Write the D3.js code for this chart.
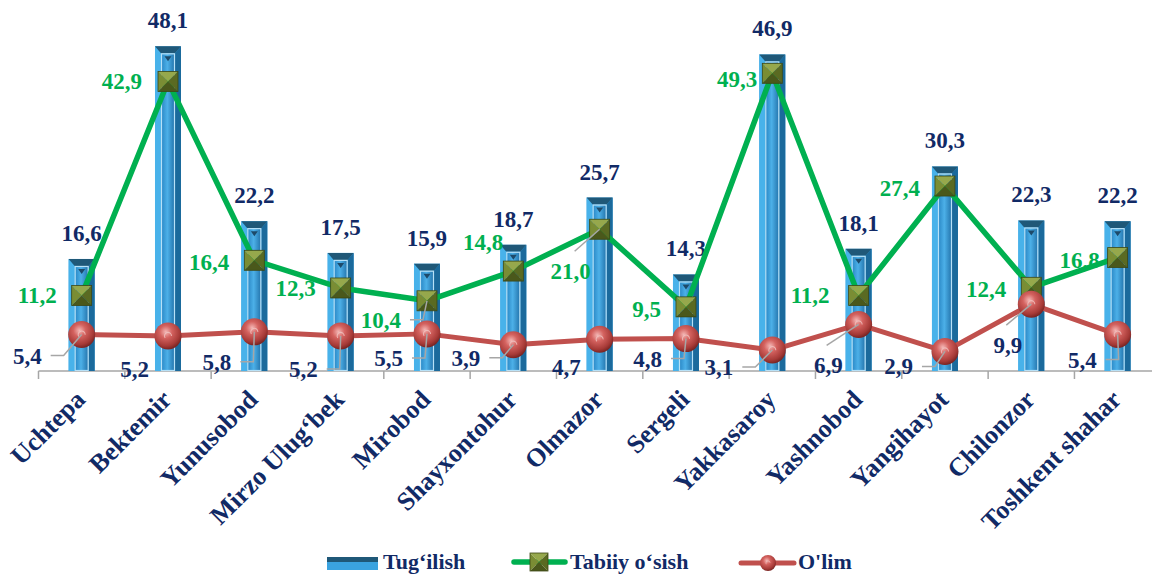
<!DOCTYPE html>
<html>
<head>
<meta charset="utf-8">
<script src="https://cdn.jsdelivr.net/npm/d3@7"></script>
<style>
  body { margin: 0; background: #fff; }
  text { font-family: 'Liberation Serif', 'Tinos', 'Times New Roman', 'DejaVu Serif', serif; font-weight: 700; }
</style>
</head>
<body>
<svg id="chart" width="1152" height="576"></svg>
<script>
// Data
const districts = ["Uchtepa", "Bektemir", "Yunusobod", "Mirzo Ulug\u2018bek", "Mirobod", "Shayxontohur",
  "Olmazor", "Sergeli", "Yakkasaroy", "Yashnobod", "Yangihayot", "Chilonzor", "Toshkent shahar"];
const tugilish = [16.6, 48.1, 22.2, 17.5, 15.9, 18.7, 25.7, 14.3, 46.9, 18.1, 30.3, 22.3, 22.2];
// marker heights as drawn (Yakkasaroy marker sits near 44, though its label reads 49,3)
const tabiiy = [11.2, 42.9, 16.4, 12.3, 10.4, 14.8, 21.0, 9.5, 44.1, 11.2, 27.4, 12.4, 16.8];
const tabiiyText = ["11,2", "42,9", "16,4", "12,3", "10,4", "14,8", "21,0", "9,5", "49,3", "11,2", "27,4", "12,4", "16,8"];
const olim = [5.4, 5.2, 5.8, 5.2, 5.5, 3.9, 4.7, 4.8, 3.1, 6.9, 2.9, 9.9, 5.4];
const seriesNames = ["Tug\u2018ilish", "Tabiiy o\u2018sish", "O'lim"];

const navy = "#112a66", green = "#00b050", red = "#c0504d", gray = "#a6a6a6";
const serif = "'Liberation Serif', 'Tinos', 'Times New Roman', 'DejaVu Serif', serif";
const fmt = v => d3.format(".1f")(v).replace(".", ",");

const svg = d3.select("#chart")
  .attr("font-family", serif)
  .attr("font-weight", "bold");

// Scales
const x = d3.scaleBand().domain(districts).range([38.5, 38.5 + 13 * 86.33]).padding(0);
const y = d3.scaleLinear().domain([0, 50]).range([371, 33.5]);
const cx = d => x(d) + x.bandwidth() / 2;
const base = y(0);

// Gradients
const defs = svg.append("defs");
const ig = defs.append("linearGradient").attr("id", "innerGrad");
ig.append("stop").attr("offset", "0%").attr("stop-color", "#2a88c6");
ig.append("stop").attr("offset", "45%").attr("stop-color", "#4cb0e8");
ig.append("stop").attr("offset", "100%").attr("stop-color", "#2475ad");
const rg = defs.append("radialGradient").attr("id", "redGrad")
  .attr("cx", "42%").attr("cy", "35%").attr("r", "65%");
rg.append("stop").attr("offset", "0%").attr("stop-color", "#f4b7b5");
rg.append("stop").attr("offset", "35%").attr("stop-color", "#d4625f");
rg.append("stop").attr("offset", "80%").attr("stop-color", "#a63a37");
rg.append("stop").attr("offset", "100%").attr("stop-color", "#7a2523");

// Axis line with ticks at category boundaries
svg.append("line").attr("x1", x.range()[0]).attr("x2", 1152)
  .attr("y1", base).attr("y2", base).attr("stroke", gray).attr("stroke-width", 1.5);
svg.selectAll(".tick").data(districts.concat(["end"])).enter().append("line")
  .attr("x1", (d, i) => i < districts.length ? x(d) : x.range()[1])
  .attr("x2", (d, i) => i < districts.length ? x(d) : x.range()[1])
  .attr("y1", base).attr("y2", base + 8).attr("stroke", gray).attr("stroke-width", 1.5);

// Bars (bevelled look)
const bw = 26, bev = 6;
const bars = svg.selectAll(".bar").data(districts).enter().append("g").attr("class", "bar");
bars.each(function(d, i) {
  const g = d3.select(this);
  const x0 = cx(d) - bw / 2, x1 = cx(d) + bw / 2, top = y(tugilish[i]);
  g.append("rect").attr("x", x0).attr("y", top).attr("width", bw).attr("height", base - top).attr("fill", "#3aa3e0");
  g.append("polygon").attr("points", [[x0, top], [x0 + bev, top + bev + 1], [x0 + bev, base], [x0, base]].join(" "))
    .attr("fill", "#48b2ea");
  g.append("polygon").attr("points", [[x1, top], [x1, base], [x1 - bev, base], [x1 - bev, top + bev + 1]].join(" "))
    .attr("fill", "#1b6a9c");
  g.append("polygon").attr("points", [[x0, top], [x1, top], [x1 - bev, top + bev + 1], [x0 + bev, top + bev + 1]].join(" "))
    .attr("fill", "#1f5878");
  g.append("rect").attr("x", x0 + bev + 0.5).attr("y", top + bev + 1.5).attr("width", bw - 2 * bev - 1)
    .attr("height", Math.max(0, base - top - bev - 2)).attr("fill", "url(#innerGrad)")
    .attr("stroke", "#b7e1f7").attr("stroke-width", 1.2);
  g.append("polygon").attr("points", [[cx(d) - 3.5, top + bev + 4], [cx(d) + 3.5, top + bev + 4], [cx(d), top + bev + 9]].join(" "))
    .attr("fill", "#1d4a6a");
});

// Bar value labels
svg.selectAll(".blabel").data(districts).enter().append("text")
  .attr("x", d => cx(d)).attr("y", (d, i) => y(tugilish[i]) - 18)
  .attr("text-anchor", "middle").attr("font-size", 23).attr("fill", navy)
  .text((d, i) => fmt(tugilish[i]));

// Lines
const line = d3.line().x(d => cx(d[0])).y(d => y(d[1]));
svg.append("path").datum(districts.map((d, i) => [d, tabiiy[i]])).attr("d", line)
  .attr("fill", "none").attr("stroke", green).attr("stroke-width", 5.5).attr("stroke-linejoin", "round");

// Green pyramid markers
function pyramid(g, mx, my, s) {
  const h = s / 2;
  const tl = [mx - h, my - h], tr = [mx + h, my - h], br = [mx + h, my + h], bl = [mx - h, my + h], c = [mx, my];
  g.append("polygon").attr("points", [tl, tr, c].join(" ")).attr("fill", "#96a84c");
  g.append("polygon").attr("points", [tl, c, bl].join(" ")).attr("fill", "#7a8d34");
  g.append("polygon").attr("points", [tr, br, c].join(" ")).attr("fill", "#5a6a22");
  g.append("polygon").attr("points", [bl, c, br].join(" ")).attr("fill", "#4a581b");
  g.append("rect").attr("x", mx - h).attr("y", my - h).attr("width", s).attr("height", s)
    .attr("fill", "none").attr("stroke", "#3c4714").attr("stroke-width", 0.8);
}
districts.forEach((d, i) => pyramid(svg.append("g"), cx(d), y(tabiiy[i]), 20));

svg.append("path").datum(districts.map((d, i) => [d, olim[i]])).attr("d", line)
  .attr("fill", "none").attr("stroke", red).attr("stroke-width", 5).attr("stroke-linejoin", "round");

function ball(g, mx, my, r) {
  g.append("circle").attr("cx", mx).attr("cy", my).attr("r", r).attr("fill", "url(#redGrad)");
  g.append("path").attr("d", d3.arc()({innerRadius: r * 0.22, outerRadius: r * 0.3, startAngle: -2.2, endAngle: 1.6}))
    .attr("transform", `translate(${mx},${my})`).attr("fill", "#f0c4c2").attr("opacity", 0.8);
}
districts.forEach((d, i) => ball(svg.append("g"), cx(d), y(olim[i]), 13.5));

// Label placement for the line series: [dx of text end, dy of text centre, leader type]
const greenPlace = [[-25, 0, 0], [-26, 0, 0], [-25, 2, 0], [-25, 0, 0], [-26, 19, 1], [-10, -29, 0], [-9, 42, 2],
  [-25, 2, 0], [-15, 6, 0], [-29, 0, 0], [-25, 2, 0], [-25, 2, 0], [-18, 2, 0]];
const redPlace = [[-40, 21, 1], [-19, 33, 0], [-23, 30, 1], [-23, 33, 1], [-24, 24, 1], [-33, 13, 1], [-19, 28, 0],
  [-24, 20, 1], [-39, 17, 1], [-16, 41, 2], [-32, 15, 1], [-9, 41, 2], [-21, 25, 1]];

function placeLabels(values, texts, place, color) {
  districts.forEach((d, i) => {
    const mx = cx(d), my = y(values[i]);
    const [dx, dy, lt] = place[i];
    const ex = mx + dx, cy = my + dy;
    if (lt === 1) {
      const tail = ex + 9, elbow = tail + 13;
      svg.append("polyline").attr("points", [[mx, my], [elbow, cy], [tail, cy]].join(" "))
        .attr("fill", "none").attr("stroke", gray).attr("stroke-width", 1.5);
    } else if (lt === 2) {
      svg.append("line").attr("x1", mx).attr("y1", my).attr("x2", ex - 16).attr("y2", cy - 20)
        .attr("stroke", gray).attr("stroke-width", 1.5);
    }
    svg.append("text").attr("x", ex).attr("y", cy + 8).attr("text-anchor", "end")
      .attr("font-size", 23).attr("fill", color).text(texts[i]);
  });
}
placeLabels(tabiiy, tabiiyText, greenPlace, green);
placeLabels(olim, olim.map(fmt), redPlace, navy);

// Category labels
svg.selectAll(".cat").data(districts).enter().append("text")
  .attr("transform", d => `translate(${cx(d) + 5},401) rotate(-45)`)
  .attr("text-anchor", "end").attr("font-size", 26).attr("fill", navy)
  .text(d => d);

// Legend
const ly = 563, lty = 569;
const lg = svg.append("g");
lg.append("rect").attr("x", 327).attr("y", ly - 6).attr("width", 51).attr("height", 13).attr("fill", "#3aa3e0");
lg.append("rect").attr("x", 327).attr("y", ly - 6).attr("width", 51).attr("height", 5).attr("fill", "#1f5878");
lg.append("text").attr("x", 383).attr("y", lty).attr("font-size", 22).attr("fill", navy).text(seriesNames[0]);
lg.append("line").attr("x1", 514).attr("x2", 565).attr("y1", ly - 1).attr("y2", ly - 1)
  .attr("stroke", green).attr("stroke-width", 5.5).attr("stroke-linecap", "round");
pyramid(lg, 539, ly - 1, 18);
lg.append("text").attr("x", 570).attr("y", lty).attr("font-size", 22).attr("fill", navy).text(seriesNames[1]);
lg.append("line").attr("x1", 741).attr("x2", 794).attr("y1", ly).attr("y2", ly)
  .attr("stroke", red).attr("stroke-width", 5).attr("stroke-linecap", "round");
ball(lg, 768, ly, 8);
lg.append("text").attr("x", 798).attr("y", lty).attr("font-size", 22).attr("fill", navy).text(seriesNames[2]);
</script>
</body>
</html>
